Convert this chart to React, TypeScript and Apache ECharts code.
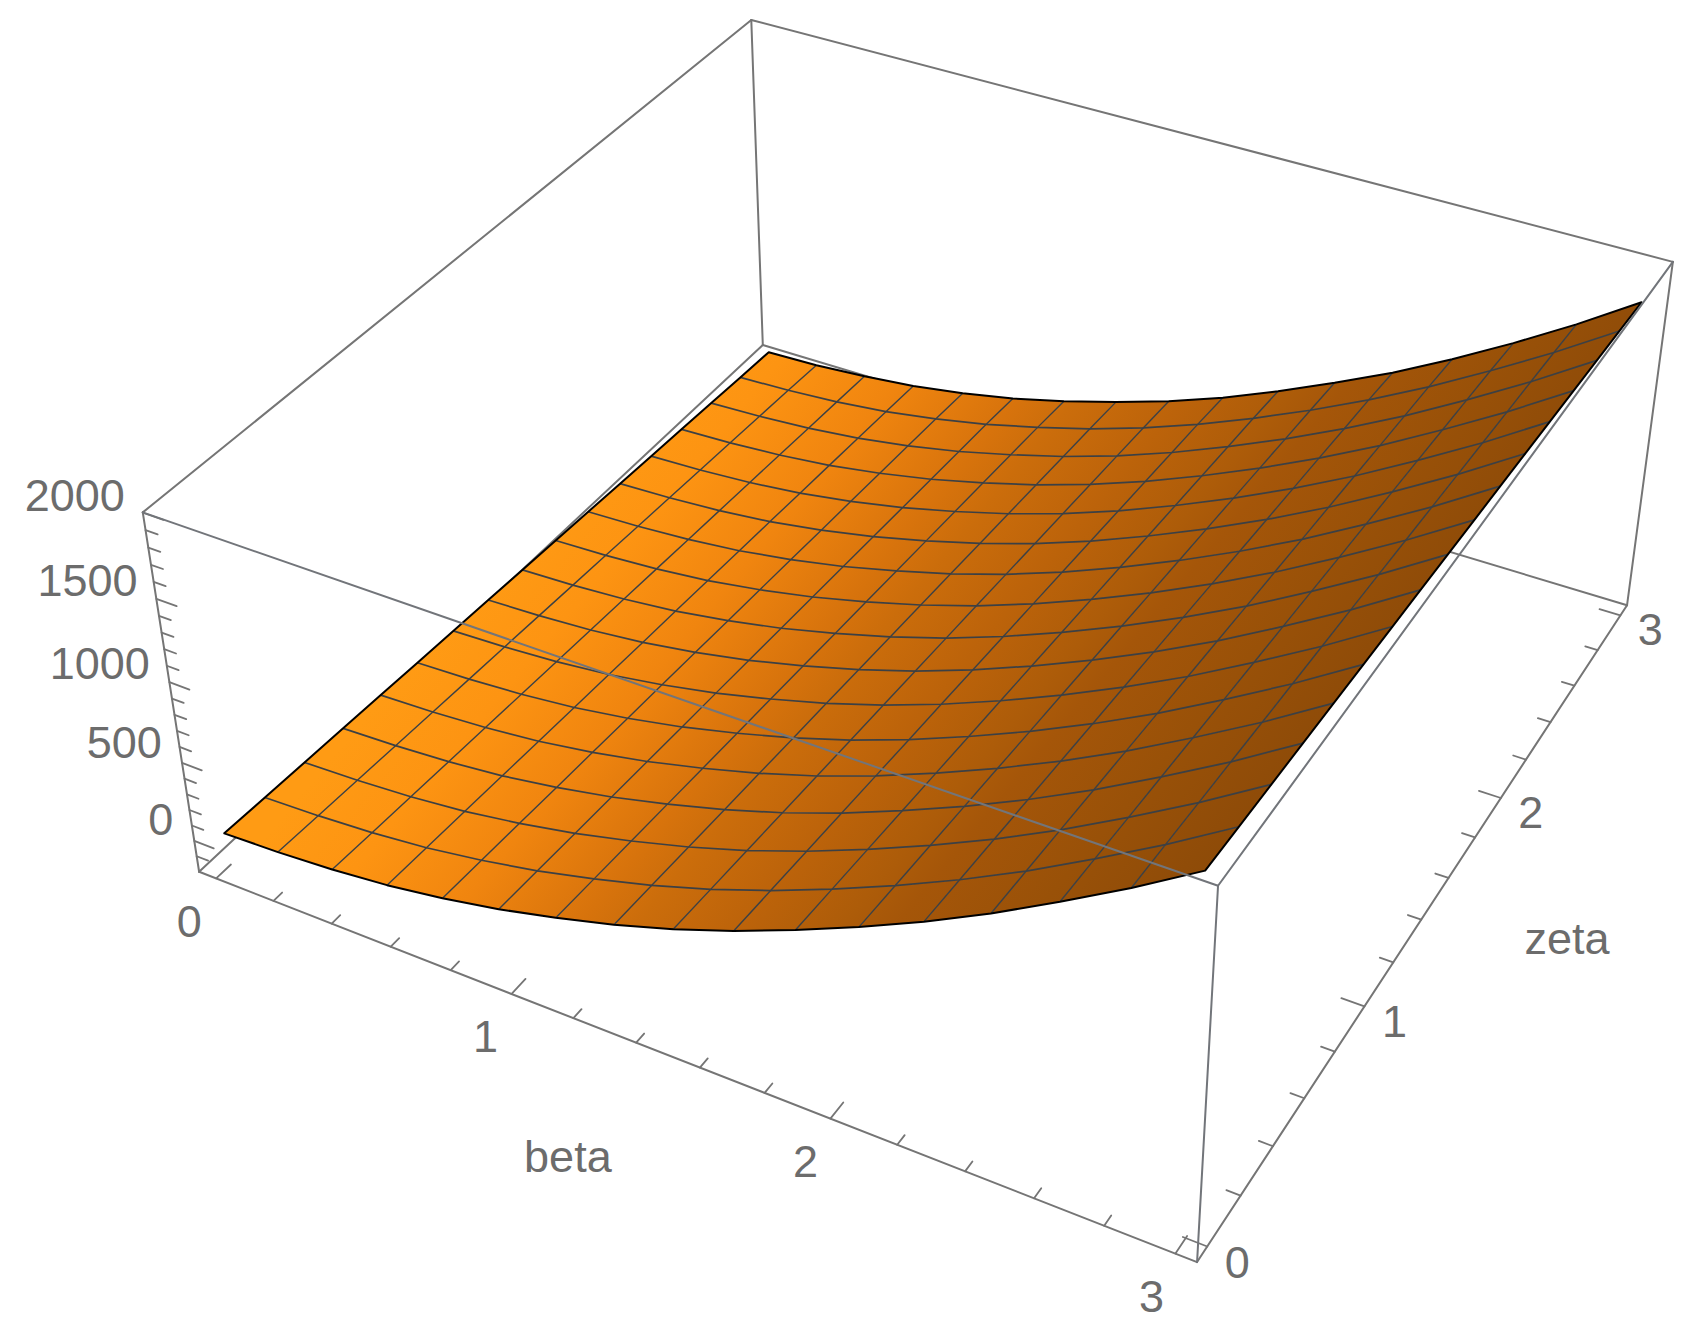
import React, { useEffect, useRef } from "react";
import * as echarts from "echarts";

// ---- Data ----
const betaTicks = [0,0.2,0.4,0.6,0.8,1,1.2,1.4,1.6,1.8,2,2.2,2.4,2.6,2.8,3];
const zetaTicks = [0,0.2,0.4,0.6,0.8,1,1.2,1.4,1.6,1.8,2,2.2,2.4,2.6,2.8,3];
const heightTicks = [-100,0,100,200,300,400,500,600,700,800,900,1000,1100,1200,1300,1400,1500,1600,1700,1800,1900,2000];
const betaLabels = [0,1,2,3];
const zetaLabels = [0,1,2,3];
const heightLabels = [0,500,1000,1500,2000];
const betaRange = [-0.06,3.06];
const zetaRange = [-0.06,3.06];
const heightRange = [-202,2002];
const meshBeta = [0,0.1875,0.375,0.5625,0.75,0.9375,1.125,1.3125,1.5,1.6875,1.875,2.0625,2.25,2.4375,2.625,2.8125,3];
const meshZeta = [0,0.1875,0.375,0.5625,0.75,0.9375,1.125,1.3125,1.5,1.6875,1.875,2.0625,2.25,2.4375,2.625,2.8125,3];
const zetaRow00 = [13,26,49,86,141,210,296,393,506,637,784,943,1116,1304,1510,1726,1959];
const zetaRow01 = [2,15,38,75,130,199,285,382,495,626,773,932,1105,1293,1499,1715,1948];
const zetaRow02 = [-9,4,27,64,119,188,274,371,484,615,762,921,1094,1282,1488,1704,1937];
const zetaRow03 = [-20,-7,16,53,108,177,263,360,473,604,751,910,1083,1271,1477,1693,1926];
const zetaRow04 = [-31,-18,5,42,97,166,252,349,462,593,740,899,1072,1260,1466,1682,1915];
const zetaRow05 = [-42,-29,-6,31,86,155,241,338,451,582,729,888,1061,1249,1455,1671,1904];
const zetaRow06 = [-52,-39,-16,21,76,145,231,328,441,572,719,878,1051,1239,1445,1661,1894];
const zetaRow07 = [-63,-50,-27,10,65,134,220,317,430,561,708,867,1040,1228,1434,1650,1883];
const zetaRow08 = [-74,-61,-38,-1,54,123,209,306,419,550,697,856,1029,1217,1423,1639,1872];
const zetaRow09 = [-85,-72,-49,-12,43,112,198,295,408,539,686,845,1018,1206,1412,1628,1861];
const zetaRow10 = [-96,-83,-60,-23,32,101,187,284,397,528,675,834,1007,1195,1401,1617,1850];
const zetaRow11 = [-107,-94,-71,-34,21,90,176,273,386,517,664,823,996,1184,1390,1606,1839];
const zetaRow12 = [-118,-105,-82,-45,10,79,165,262,375,506,653,812,985,1173,1379,1595,1828];
const zetaRow13 = [-129,-116,-93,-56,-1,68,154,251,364,495,642,801,974,1162,1368,1584,1817];
const zetaRow14 = [-140,-127,-104,-67,-12,57,143,240,353,484,631,790,963,1151,1357,1573,1806];
const zetaRow15 = [-151,-138,-115,-78,-23,46,132,229,342,473,620,779,952,1140,1346,1562,1795];
const zetaRow16 = [-161,-152,-127,-92,-38,30,117,216,328,457,605,765,935,1125,1330,1548,1784];
const surface = [zetaRow00,zetaRow01,zetaRow02,zetaRow03,zetaRow04,zetaRow05,zetaRow06,zetaRow07,zetaRow08,zetaRow09,zetaRow10,zetaRow11,zetaRow12,zetaRow13,zetaRow14,zetaRow15,zetaRow16];

// ---- Camera: where the box's eight corners fall on the page ----
const boxCorners: number[][] = [
  [0,0,0,199,872],[1,0,0,1197,1262],[1,1,0,1627,605],[0,1,0,763,345],
  [0,0,1,143,512],[1,0,1,1218,886],[1,1,1,1673,262],[0,1,1,751,20],
];
function solve(A: number[][], b: number[]) {
  const n = b.length; const M = A.map((r, i) => [...r, b[i]]);
  for (let c = 0; c < n; c++) {
    let p = c;
    for (let r = c + 1; r < n; r++) if (Math.abs(M[r][c]) > Math.abs(M[p][c])) p = r;
    [M[c], M[p]] = [M[p], M[c]];
    for (let r = 0; r < n; r++) {
      if (r === c) continue;
      const f = M[r][c] / M[c][c];
      for (let k = c; k <= n; k++) M[r][k] -= f * M[c][k];
    }
  }
  return M.map((r, i) => r[n] / r[i]);
}
const camRows: number[][] = []; const camRhs: number[] = [];
for (const [X, Y, Z, u, v] of boxCorners) {
  camRows.push([X,Y,Z,1,0,0,0,0,-u*X,-u*Y,-u*Z]); camRhs.push(u);
  camRows.push([0,0,0,0,X,Y,Z,1,-v*X,-v*Y,-v*Z]); camRhs.push(v);
}
const idx11 = Array.from({ length: 11 }, (_, i) => i);
const cam = solve(
  idx11.map(i => idx11.map(j => camRows.reduce((s, r) => s + r[i] * r[j], 0))),
  idx11.map(i => camRows.reduce((s, r, k) => s + r[i] * camRhs[k], 0)),
);
function project(beta: number, zeta: number, h: number): number[] {
  const X = (beta - betaRange[0]) / (betaRange[1] - betaRange[0]);
  const Y = (zeta - zetaRange[0]) / (zetaRange[1] - zetaRange[0]);
  const Z = (h - heightRange[0]) / (heightRange[1] - heightRange[0]);
  const w = cam[8]*X + cam[9]*Y + cam[10]*Z + 1;
  return [(cam[0]*X + cam[1]*Y + cam[2]*Z + cam[3]) / w, (cam[4]*X + cam[5]*Y + cam[6]*Z + cam[7]) / w];
}

const [bLo, bHi] = betaRange, [zLo, zHi] = zetaRange, [hLo, hHi] = heightRange;
const backEdges = [
  [bLo,zLo,hLo,bHi,zLo,hLo],[bHi,zLo,hLo,bHi,zHi,hLo],[bHi,zHi,hLo,bLo,zHi,hLo],[bLo,zHi,hLo,bLo,zLo,hLo],
  [bLo,zLo,hLo,bLo,zLo,hHi],[bLo,zHi,hLo,bLo,zHi,hHi],[bHi,zHi,hLo,bHi,zHi,hHi],
  [bLo,zLo,hHi,bLo,zHi,hHi],[bLo,zHi,hHi,bHi,zHi,hHi],
];
const frontEdges = [
  [bLo,zLo,hHi,bHi,zLo,hHi],[bHi,zLo,hHi,bHi,zHi,hHi],[bHi,zLo,hLo,bHi,zLo,hHi],
];

const GREY = "#757575";
const TEXT = "#6c6c6c";
const FONT = "Liberation Sans";
const FONT_SIZE = 45;
const MAJOR = 0.068, MINOR = 0.04;

export default function App() {
  const ref = useRef<HTMLDivElement>(null);
  useEffect(() => {
    const chart = echarts.init(ref.current!, null, { renderer: "svg" });
    const toPx = (api: any, p: number[]) => api.coord(p);
    const seg3 = (api: any, a: number[], b: number[], stroke: string, lineWidth: number) => ({
      type: "line",
      shape: (() => { const s = toPx(api, project(a[0],a[1],a[2])), e = toPx(api, project(b[0],b[1],b[2])); return { x1: s[0], y1: s[1], x2: e[0], y2: e[1] }; })(),
      style: { stroke, lineWidth, lineCap: "round" },
    });
    const surfaceFill = new echarts.graphic.LinearGradient(
      // the surface's light falls off along this page direction
      567.6, 475, 1137.5, 952,
      [
        { offset: 0, color: "rgb(255,155,20)" },
        { offset: 0.121, color: "rgb(253,148,18)" },
        { offset: 0.262, color: "rgb(240,133,15)" },
        { offset: 0.4, color: "rgb(215,115,12)" },
        { offset: 0.459, color: "rgb(203,109,11)" },
        { offset: 0.571, color: "rgb(188,99,10)" },
        { offset: 0.673, color: "rgb(173,92,9)" },
        { offset: 0.727, color: "rgb(165,86,9)" },
        { offset: 0.861, color: "rgb(153,81,8)" },
        { offset: 1, color: "rgb(142,75,8)" },
      ],
      true,
    );
    const cells: number[][] = [];
    for (let j = 0; j < meshZeta.length - 1; j++) for (let i = 0; i < meshBeta.length - 1; i++) cells.push([i, j]);
    const node = (api: any, i: number, j: number) => toPx(api, project(meshBeta[i], meshZeta[j], surface[j][i]));
    const tickText = (api: any, at: number[], text: string, dx: number, dy: number, align = "center") => {
      const p = toPx(api, project(at[0], at[1], at[2]));
      return { type: "text", style: { x: p[0] + dx, y: p[1] + dy, text, fill: TEXT, fontSize: FONT_SIZE, fontFamily: FONT, align, verticalAlign: "middle" } };
    };
    const custom = (name: string, z: number, data: any[], renderItem: any) => ({
      type: "custom", name, z, data, renderItem, silent: true, clip: false, coordinateSystem: "cartesian2d",
      encode: { x: [], y: [] },
    });
    const option: any = {
      animation: false,
      backgroundColor: "#ffffff",
      grid: { left: 0, right: 0, top: 0, bottom: 0 },
      xAxis: { type: "value", min: 0, max: 1702, show: false },
      yAxis: { type: "value", min: 0, max: 1335, inverse: true, show: false },
      series: [
        custom("box back", 1, backEdges.map((_, k) => [k]), (p: any, api: any) => {
          const e = backEdges[p.dataIndex];
          return seg3(api, e.slice(0,3), e.slice(3), GREY, 2);
        }),
        custom("beta ticks", 2, betaTicks.map(v => [v]), (p: any, api: any) => {
          const v = betaTicks[p.dataIndex]; const len = Number.isInteger(v) ? MAJOR : MINOR;
          return seg3(api, [v,zLo,hLo], [v,zLo+len,hLo], GREY, 1.8);
        }),
        custom("zeta ticks", 2, zetaTicks.map(v => [v]), (p: any, api: any) => {
          const v = zetaTicks[p.dataIndex]; const len = Number.isInteger(v) ? MAJOR : MINOR;
          return seg3(api, [bHi,v,hLo], [bHi-len,v,hLo], GREY, 1.8);
        }),
        custom("height ticks", 2, heightTicks.map(v => [v]), (p: any, api: any) => {
          const v = heightTicks[p.dataIndex]; const len = v % 500 === 0 ? MAJOR : MINOR;
          return seg3(api, [bLo,zLo,v], [bLo+len,zLo,v], GREY, 1.8);
        }),
        custom("surface", 3, cells, (p: any, api: any) => {
          const [i, j] = cells[p.dataIndex];
          return { type: "polygon", shape: { points: [node(api,i,j), node(api,i+1,j), node(api,i+1,j+1), node(api,i,j+1)] }, style: { fill: surfaceFill } };
        }),
        custom("mesh zeta lines", 4, meshZeta.slice(1,-1).map((_, k) => [k+1]), (p: any, api: any) => {
          const j = p.dataIndex + 1;
          return { type: "polyline", shape: { points: meshBeta.map((_, i) => node(api,i,j)) }, style: { stroke: "#3c4044", lineWidth: 1.7, fill: null } };
        }),
        custom("mesh beta lines", 4, meshBeta.slice(1,-1).map((_, k) => [k+1]), (p: any, api: any) => {
          const i = p.dataIndex + 1;
          return { type: "polyline", shape: { points: meshZeta.map((_, j) => node(api,i,j)) }, style: { stroke: "#3c4044", lineWidth: 1.4, fill: null } };
        }),
        custom("surface edge", 5, [[0]], (_p: any, api: any) => {
          const pts: number[][] = [];
          meshBeta.forEach((_, i) => pts.push(node(api,i,0)));
          meshZeta.forEach((_, j) => pts.push(node(api,meshBeta.length-1,j)));
          [...meshBeta].reverse().forEach((_, k) => pts.push(node(api,meshBeta.length-1-k,meshZeta.length-1)));
          [...meshZeta].reverse().forEach((_, k) => pts.push(node(api,0,meshZeta.length-1-k)));
          return { type: "polygon", shape: { points: pts }, style: { fill: null, stroke: "#000000", lineWidth: 2, lineJoin: "round" } };
        }),
        custom("box front", 6, frontEdges.map((_, k) => [k]), (p: any, api: any) => {
          const e = frontEdges[p.dataIndex];
          return seg3(api, e.slice(0,3), e.slice(3), "#72757a", 2);
        }),
        custom("beta labels", 7, betaLabels.map(v => [v]), (p: any, api: any) => {
          const v = betaLabels[p.dataIndex];
          return tickText(api, [v,zLo,hLo], String(v), -27 + v, 43);
        }),
        custom("zeta labels", 7, zetaLabels.map(v => [v]), (p: any, api: any) => {
          const v = zetaLabels[p.dataIndex];
          return tickText(api, [bHi,v,hLo], String(v), 30, 16 - 0.6*v);
        }),
        custom("height labels", 7, heightLabels.map(v => [v]), (p: any, api: any) => {
          const v = heightLabels[p.dataIndex];
          return tickText(api, [bLo,zLo,v], String(v), -21 + 0.0015*v, -21 + 0.002*v, "right");
        }),
        custom("axis names", 7, [["beta"],["zeta"]], (p: any, api: any) => (
          p.dataIndex === 0
            ? tickText(api, [1.5,zLo,hLo], "beta", -100, 101)
            : tickText(api, [bHi,1.5,hLo], "zeta", 132, 40)
        )),
      ],
    };
    chart.setOption(option);
    return () => chart.dispose();
  }, []);
  return <div ref={ref} style={{ position: "absolute", left: 0, top: 0, width: 1702, height: 1335, background: "#fff" }} />;
}
